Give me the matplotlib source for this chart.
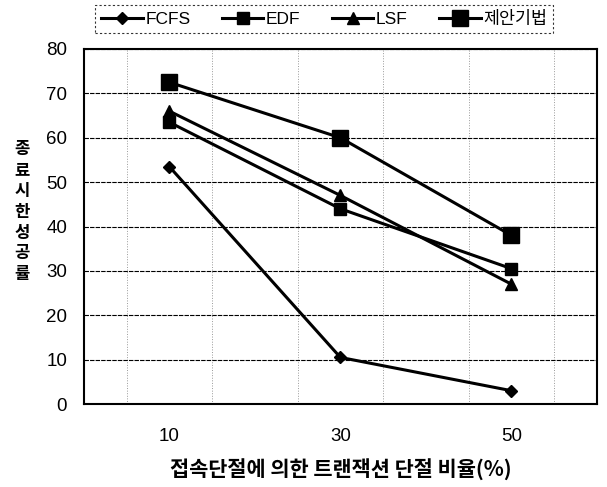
import matplotlib
matplotlib.use("Agg")
import matplotlib.pyplot as plt

plt.rcParams['font.family'] = ['Liberation Sans', 'Noto Sans CJK KR', 'DejaVu Sans']

categories = ["10", "30", "50"]
fcfs = [53.5, 10.5, 3.0]
edf = [63.5, 44.0, 30.5]
lsf = [66.0, 47.0, 27.0]
proposed = [72.5, 60.0, 38.0]
yticks = [0, 10, 20, 30, 40, 50, 60, 70, 80]

fig = plt.figure(figsize=(6.07, 4.87), dpi=100)
ax = fig.add_axes([0.138, 0.1704, 0.8455, 0.729])

x = list(range(len(categories)))
ax.plot(x, fcfs, color='black', lw=2.2, marker='D', ms=6.5, label='FCFS')
ax.plot(x, edf, color='black', lw=2.2, marker='s', ms=8.5, label='EDF')
ax.plot(x, lsf, color='black', lw=2.2, marker='^', ms=9, label='LSF')
ax.plot(x, proposed, color='black', lw=2.2, marker='s', ms=12, label='제안기법')

ax.set_xlim(-0.5, 2.5)
ax.set_ylim(0, 80)
ax.set_yticks(yticks)
ax.set_xticks(x)
ax.set_xticklabels(categories)
ax.tick_params(axis='both', length=0, labelsize=13.5)
ax.tick_params(axis='y', pad=12)
ax.tick_params(axis='x', pad=17)

ax.yaxis.grid(True, color='black', lw=0.8, ls=(0, (4, 1)))
ax.set_xticks([-0.25, 0.25, 0.75, 1.25, 1.75, 2.25], minor=True)
ax.xaxis.grid(True, which='minor', color='#999999', lw=0.7, ls=':')
ax.tick_params(axis='x', which='minor', length=0)
ax.set_axisbelow(True)
for s in ax.spines.values():
    s.set_linewidth(1.5)
    s.set_color('black')

ax.set_xlabel('접속단절에 의한 트랜잭션 단절 비율(%)', fontsize=15, fontweight='bold',
              family=['Noto Sans CJK KR', 'DejaVu Sans'], labelpad=10)
fig.text(0.036, 0.565, '종\n료\n시\n한\n성\n공\n률', fontsize=12, fontweight='bold',
         family=['Noto Sans CJK KR', 'DejaVu Sans'], ha='center', va='center',
         linespacing=1.2)

leg = fig.legend(loc='upper left', bbox_to_anchor=(95 / 607, 1 - 5 / 487),
                 ncol=4, frameon=True, handlelength=2.4, handletextpad=0.15,
                 columnspacing=1.8, borderaxespad=0, fancybox=False, borderpad=0.35,
                 prop={'family': ['Liberation Sans', 'Noto Sans CJK KR'], 'size': 12.5})
leg.get_frame().set_edgecolor('black')
leg.get_frame().set_linestyle((0, (2, 2)))
leg.get_frame().set_linewidth(0.8)

fig.savefig('out.png', dpi=100)
